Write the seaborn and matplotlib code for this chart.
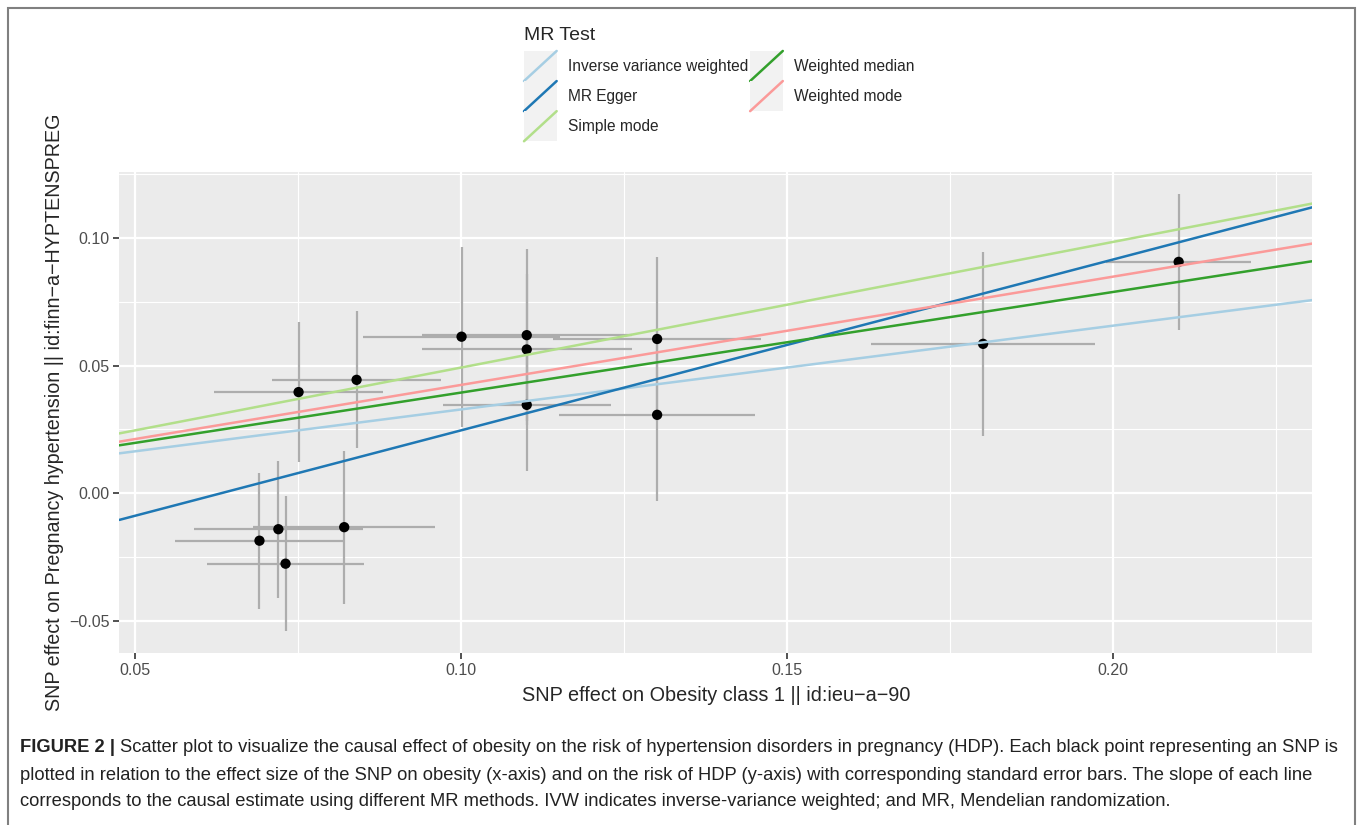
import numpy as np
import pandas as pd
import matplotlib
matplotlib.use('Agg')
import matplotlib.pyplot as plt
import seaborn as sns
from matplotlib.legend_handler import HandlerBase
from matplotlib.patches import Rectangle
from matplotlib.lines import Line2D

# SNP effects (exposure = obesity, outcome = HDP)
snp_x = [0.0691, 0.0720, 0.0731, 0.0821, 0.0751, 0.0840, 0.1001,
         0.1101, 0.1101, 0.1301, 0.1101, 0.1301, 0.1801, 0.2101]
snp_y = [-0.0186, -0.0141, -0.0276, -0.0133, 0.0396, 0.0444, 0.0613,
         0.0619, 0.0563, 0.0604, 0.0346, 0.0307, 0.0585, 0.0906]
se_x = [0.0130, 0.0130, 0.0120, 0.0140, 0.0130, 0.0130, 0.0151,
        0.0161, 0.0161, 0.0160, 0.0129, 0.0150, 0.0172, 0.0111]
se_y = [0.0266, 0.0268, 0.0264, 0.0300, 0.0274, 0.0268, 0.0353,
        0.0337, 0.0294, 0.0321, 0.0259, 0.0337, 0.0360, 0.0266]

# MR estimates (one line per method)
methods = ['Inverse variance weighted', 'MR Egger', 'Simple mode',
           'Weighted median', 'Weighted mode']
slopes = [0.328, 0.669, 0.492, 0.394, 0.424]
intercepts = [0.0, -0.0423, 0.0, 0.0, 0.0]
colors = ['#A6CEE3', '#1F78B4', '#B2DF8A', '#33A02C', '#FB9A99']

x_ticks = [0.05, 0.10, 0.15, 0.20]
y_ticks = [-0.05, 0.00, 0.05, 0.10]
xlim = (0.0476, 0.2306)
ylim = (-0.0627, 0.1258)

caption_bold = 'FIGURE 2 |'
caption_lines = [
    'Scatter plot to visualize the causal effect of obesity on the risk of hypertension disorders in pregnancy (HDP). Each black point representing an SNP is',
    'plotted in relation to the effect size of the SNP on obesity (x-axis) and on the risk of HDP (y-axis) with corresponding standard error bars. The slope of each line',
    'corresponds to the causal estimate using different MR methods. IVW indicates inverse-variance weighted; and MR, Mendelian randomization.',
]

sns.set_theme(style='darkgrid', rc={'axes.facecolor': '#EBEBEB',
                                    'grid.color': 'white'})
plt.rcParams['font.family'] = ['Liberation Sans', 'DejaVu Sans']

W, H = 1360, 825
fig = plt.figure(figsize=(W / 100, H / 100), dpi=100)
ax = fig.add_axes([119.3 / W, 1 - 653.3 / H, (1312.3 - 119.3) / W, (653.3 - 172) / H])

snps = pd.DataFrame({'x': snp_x, 'y': snp_y, 'se_x': se_x, 'se_y': se_y})

# error bars, then points, then the method lines on top
ax.errorbar(snps['x'], snps['y'], xerr=snps['se_x'], yerr=snps['se_y'],
            fmt='none', ecolor='#ADADAD', elinewidth=1.6, capsize=0, zorder=2)
sns.scatterplot(data=snps, x='x', y='y', color='black', s=55,
                edgecolor='none', ax=ax, zorder=3)

rows = []
for m, b, a in zip(methods, slopes, intercepts):
    for xv in xlim:
        rows.append({'method': m, 'x': xv, 'y': a + b * xv})
lines_df = pd.DataFrame(rows)
sns.lineplot(data=lines_df, x='x', y='y', hue='method', hue_order=methods,
             palette=colors, lw=1.8, legend=False, ax=ax, zorder=4)

ax.set_xlim(*xlim)
ax.set_ylim(*ylim)
ax.set_xticks(x_ticks)
ax.set_xticklabels(['0.05', '0.10', '0.15', '0.20'])
ax.set_yticks(y_ticks)
ax.set_yticklabels(['\u22120.05', '0.00', '0.05', '0.10'])
ax.set_xticks([0.075, 0.125, 0.175, 0.225], minor=True)
ax.set_yticks([-0.025, 0.025, 0.075, 0.125], minor=True)
ax.grid(which='major', color='white', lw=1.6)
ax.grid(which='minor', color='white', lw=0.8)
ax.tick_params(which='major', length=4, width=1.2, color='#333333',
               labelcolor='#4D4D4D', labelsize=11.5, pad=3, bottom=True, left=True)
ax.tick_params(which='minor', length=0)
for s in ax.spines.values():
    s.set_visible(False)
ax.set_xlabel('SNP effect on Obesity class 1 || id:ieu\u2212a\u221290', fontsize=14.3)
ax.xaxis.set_label_coords(0.5, -0.068)
ax.set_ylabel('SNP effect on Pregnancy hypertension || id:finn\u2212a\u2212HYPTENSPREG',
              fontsize=14.2)
ax.yaxis.set_label_coords(-0.0464, 0.5)


class AblineKey(HandlerBase):
    def create_artists(self, legend, orig, xd, yd, w, h, fontsize, trans):
        bg = Rectangle((-xd, -yd), w, h, facecolor='#F2F2F2', edgecolor='none',
                       transform=trans)
        ln = Line2D([-xd, -xd + w], [-yd, -yd + h], color=orig.get_color(),
                    lw=1.8, transform=trans)
        return [bg, ln]


handles = [Line2D([], [], color=c) for c in colors]
leg = fig.legend(handles, methods, loc='upper left',
                 bbox_to_anchor=(524 / W, 1 - 27 / H), ncol=2, frameon=False,
                 title='MR Test', alignment='left', fontsize=11.2,
                 title_fontproperties={'size': 14},
                 handler_map={Line2D: AblineKey()},
                 handlelength=2.1, handleheight=2.6, labelspacing=0,
                 handletextpad=0.7, columnspacing=0.15, borderpad=0, borderaxespad=0)
leg._legend_box.sep = 5

# outer frame of the figure panel
fig.patches.append(Rectangle((8 / W, -0.02), (1355 - 8) / W, (H - 8) / H + 0.02,
                             transform=fig.transFigure, fill=False,
                             edgecolor='#808080', lw=1.5))

# caption
cap_y = [748, 775, 802]
renderer = fig.canvas.get_renderer()
tb = fig.text(20 / W, 1 - cap_y[0] / H, caption_bold, weight='bold', fontsize=13.2,
              va='center', color='#222222')
bb = tb.get_window_extent(renderer)
fig.text(bb.x1 / W + 5 / W, 1 - cap_y[0] / H, caption_lines[0], fontsize=13.2,
         va='center', color='#222222')
for yy, line in zip(cap_y[1:], caption_lines[1:]):
    fig.text(20 / W, 1 - yy / H, line, fontsize=13.2, va='center', color='#222222')

fig.savefig('out.png', dpi=100)
